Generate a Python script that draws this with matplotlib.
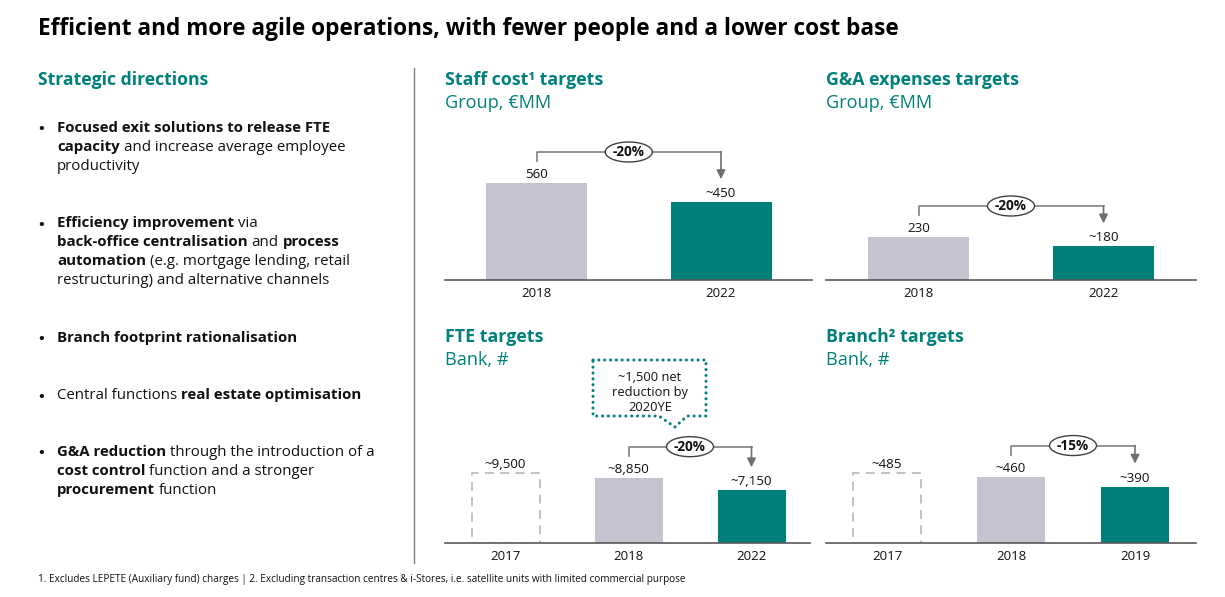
import matplotlib
matplotlib.use('Agg')
import matplotlib.pyplot as plt
from matplotlib.patches import Ellipse, PathPatch
from matplotlib.path import Path

plt.rcParams['font.family'] = ['Open Sans', 'DejaVu Sans']

W, H = 1225, 597
TEAL = '#00807A'
GRAY_BAR = '#C4C4D0'
DASH_GRAY = '#BDBDBD'
LINE_GRAY = '#7F7F7F'
TXT = '#111111'

# ---------------- data ----------------
staff_years = ['2018', '2022']
staff_values = [560, 450]
staff_labels = ['560', '~450']
staff_change = '-20%'

ga_years = ['2018', '2022']
ga_values = [230, 180]
ga_labels = ['230', '~180']
ga_change = '-20%'

fte_years = ['2017', '2018', '2022']
fte_values = [9500, 8850, 7150]
fte_labels = ['~9,500', '~8,850', '~7,150']
fte_change = '-20%'

branch_years = ['2017', '2018', '2019']
branch_values = [485, 460, 390]
branch_labels = ['~485', '~460', '~390']
branch_change = '-15%'

title_text = 'Efficient and more agile operations, with fewer people and a lower cost base'
footnote_text = ('1. Excludes LEPETE (Auxiliary fund) charges | 2. Excluding transaction centres & '
                 'i-Stores, i.e. satellite units with limited commercial purpose')
callout_lines = ['~1,500 net', 'reduction by', '2020YE']

bullets = [
    [[('Focused exit solutions to release FTE', True)],
     [('capacity', True), (' and increase average employee', False)],
     [('productivity', False)]],
    [[('Efficiency improvement', True), (' via', False)],
     [('back-office centralisation', True), (' and ', False), ('process', True)],
     [('automation', True), (' (e.g. mortgage lending, retail', False)],
     [('restructuring) and alternative channels', False)]],
    [[('Branch footprint rationalisation', True)]],
    [[('Central functions ', False), ('real estate optimisation', True)]],
    [[('G&A reduction', True), (' through the introduction of a', False)],
     [('cost control', True), (' function and a stronger', False)],
     [('procurement', True), (' function', False)]],
]

# ---------------- figure ----------------
fig = plt.figure(figsize=(W / 100, H / 100), dpi=100)
fig.patch.set_facecolor('white')
renderer = fig.canvas.get_renderer()


def fx(x):
    return x / W


def fy(y):
    return 1 - y / H


def text_width(s, size, weight='normal'):
    t = fig.text(0, 0, s, fontsize=size, fontweight=weight)
    w = t.get_window_extent(renderer).width
    t.remove()
    return w


def fit(s, weight, target):
    return 10 * target / text_width(s, 10, weight)


TITLE_SZ = fit(title_text, 'bold', 861)
HEAD_SZ = fit('Strategic directions', 'bold', 171)
PT_SZ = fit('G&A expenses targets', 'bold', 194)
SUB_SZ = fit('Group, €MM', 'normal', 106)
BUL_SZ = fit('Focused exit solutions to release FTE', 'bold', 273)
FOOT_SZ = fit(footnote_text, 'normal', 650)
VAL_SZ = fit('~9,500', 'normal', 42)
YEAR_SZ = fit('2018', 'normal', 30)
CALL_SZ = fit('reduction by', 'normal', 76)
PCT_SZ = fit('-20%', 'bold', 32)

# title
fig.text(fx(38), fy(35), title_text, fontsize=TITLE_SZ, fontweight='bold',
         color='black', va='baseline', ha='left')

# left column
fig.text(fx(38), fy(85), 'Strategic directions', fontsize=HEAD_SZ, fontweight='bold',
         color=TEAL, va='baseline', ha='left')


def rich_line(x, y, runs, size):
    cur = x
    for s, bold in runs:
        wt = 'bold' if bold else 'normal'
        sp = text_width('a a', size, wt) - text_width('aa', size, wt)
        lead = len(s) - len(s.lstrip(' '))
        trail = len(s) - len(s.rstrip(' '))
        cur += lead * sp
        core = s.strip(' ')
        t = fig.text(fx(cur), fy(y), core, fontsize=size, fontweight=wt, color=TXT,
                     va='baseline', ha='left')
        cur += t.get_window_extent(renderer).width + trail * sp


group_baselines = [132, 227, 342, 399, 456]
for gb, lines in zip(group_baselines, bullets):
    fig.text(fx(38), fy(gb + 1.5), '•', fontsize=BUL_SZ, fontweight='bold', color=TXT,
             va='baseline', ha='left')
    for k, runs in enumerate(lines):
        rich_line(57, gb + 19 * k, runs, BUL_SZ)

# divider
fig.add_artist(plt.Line2D([fx(414), fx(414)], [fy(68), fy(563)], color=LINE_GRAY, lw=1))

# footnote
fig.text(fx(38), fy(582), footnote_text, fontsize=FOOT_SZ, color=TXT, va='baseline', ha='left')


def panel(x0, x1, base, centers, bar_px, scale, values, labels, years, change,
          title, subtitle, tbase, dashed_first):
    ah = 200
    unit = centers[1] - centers[0]
    ax = fig.add_axes([fx(x0), fy(base), (x1 - x0) / W, ah / H])
    ax.set_xlim((x0 - centers[0]) / unit, (x1 - centers[0]) / unit)
    ax.set_ylim(0, ah / scale)
    ax.axis('off')
    n = len(values)
    colors = [GRAY_BAR] * (n - 1) + [TEAL]
    bars = ax.bar(range(n), values, width=bar_px / unit, color=colors, zorder=2)
    if dashed_first:
        b = bars[0]
        b.set_facecolor('white')
        b.set_edgecolor(DASH_GRAY)
        b.set_linestyle((0, (5, 3.5)))
        b.set_linewidth(1.3)
    ax.plot([ax.get_xlim()[0], ax.get_xlim()[1]], [0, 0], color='#595959', lw=1.2,
            clip_on=False, zorder=3)
    px = 1 / scale
    for i, (v, lb, yr) in enumerate(zip(values, labels, years)):
        ax.annotate(lb, (i, v), xytext=(0, 5), textcoords='offset pixels', ha='center',
                    va='baseline', fontsize=VAL_SZ, color=TXT)
        ax.annotate(yr, (i, 0), xytext=(0, -17), textcoords='offset pixels', ha='center',
                    va='baseline', fontsize=YEAR_SZ, color=TXT, annotation_clip=False)
    l, r = n - 2, n - 1
    hy = max(values[l], values[r]) + 31 * px
    ly = values[l] + 22 * px
    ty = values[r] + 23 * px
    ax.plot([l, l, r], [ly, hy, hy], color=LINE_GRAY, lw=1.2, clip_on=False, zorder=4)
    ax.annotate('', xy=(r, ty), xytext=(r, hy),
                arrowprops=dict(arrowstyle='-|>', color='#6F6F6F', lw=1.2, mutation_scale=13,
                                shrinkA=0, shrinkB=0), zorder=4)
    mx = (l + r) / 2
    ax.add_patch(Ellipse((mx, hy), 47 / unit, 20 * px, facecolor='white', edgecolor='#404040',
                         lw=1, zorder=5, clip_on=False))
    ax.annotate(change, (mx, hy), xytext=(0, -4.5), textcoords='offset pixels', ha='center',
                va='baseline', fontsize=PCT_SZ, fontweight='bold', color=TXT, zorder=6)
    fig.text(fx(x0), fy(tbase), title, fontsize=PT_SZ, fontweight='bold', color=TEAL,
             va='baseline', ha='left')
    fig.text(fx(x0), fy(tbase + 23), subtitle, fontsize=SUB_SZ, color=TEAL,
             va='baseline', ha='left')
    return ax


panel(445, 812, 280, [536.5, 721], 101, 97 / 560, staff_values, staff_labels, staff_years,
      staff_change, 'Staff cost¹ targets', 'Group, €MM', 85, False)
panel(826, 1196, 280, [918.5, 1103.5], 101, 0.187, ga_values, ga_labels, ga_years,
      ga_change, 'G&A expenses targets', 'Group, €MM', 85, False)
panel(445, 810, 543, [505.5, 628.5], 68, 0.00738, fte_values, fte_labels, fte_years,
      fte_change, 'FTE targets', 'Bank, #', 342, True)
panel(826, 1196, 543, [887, 1011], 68, 0.1445, branch_values, branch_labels, branch_years,
      branch_change, 'Branch² targets', 'Bank, #', 342, True)

# callout box (dotted, pointing down to the FTE change bracket)
cv = [(593, 360), (706, 360), (706, 416), (687, 416), (675, 427), (659, 416), (593, 416), (593, 360)]
path = Path([(fx(x), fy(y)) for x, y in cv])
fig.add_artist(PathPatch(path, transform=fig.transFigure, facecolor='none', edgecolor=TEAL,
                         lw=2.2, linestyle=(0, (0.01, 1.9)), capstyle='round', joinstyle='round'))
for k, s in enumerate(callout_lines):
    fig.text(fx(650), fy(381 + 15 * k), s, fontsize=CALL_SZ, color=TXT, ha='center',
             va='baseline')

fig.savefig('out.png', dpi=100, facecolor='white')
